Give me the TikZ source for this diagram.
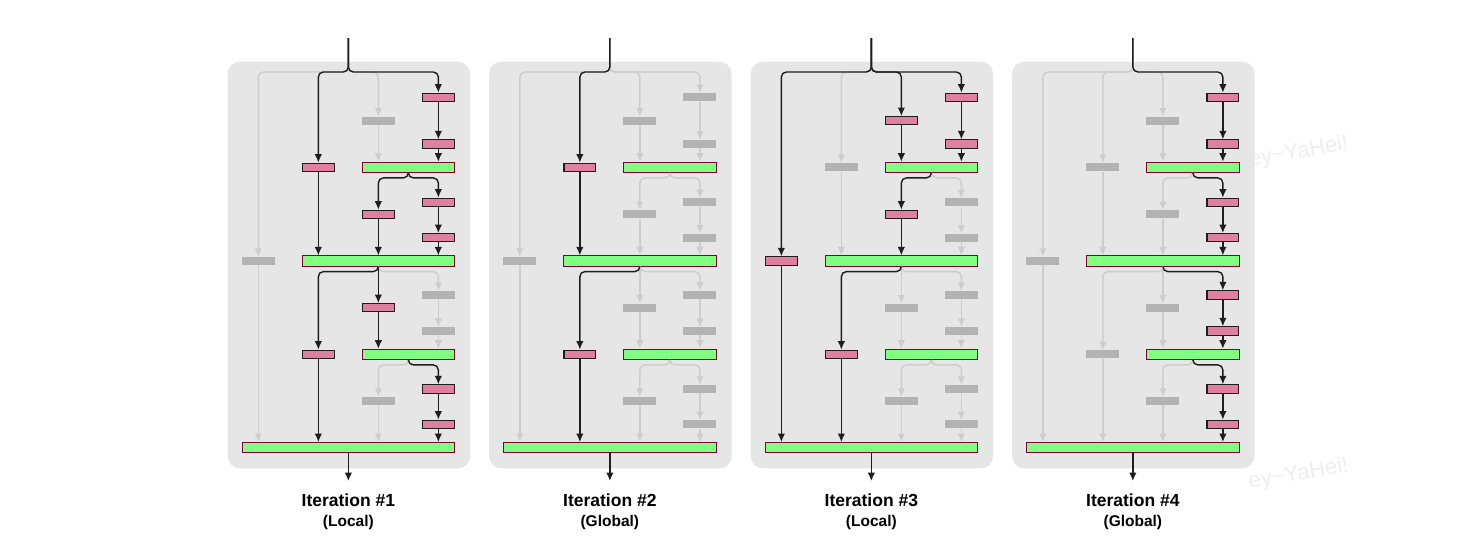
\documentclass[tikz,border=0pt]{standalone}
\usepackage{fontspec}
\setmainfont{Liberation Sans}
\usepackage{xcolor}
\usetikzlibrary{arrows.meta}
\definecolor{figline}{RGB}{30,30,30}
\definecolor{figpanel}{RGB}{230,230,230}
\definecolor{figidle}{RGB}{205,205,205}
\definecolor{figoff}{RGB}{179,179,179}
\definecolor{figpink}{RGB}{224,128,160}
\definecolor{figgreen}{RGB}{128,255,128}
\definecolor{figedge}{RGB}{128,0,51}
\definecolor{figmark}{RGB}{238,238,238}
\tikzset{
  act/.style  ={draw=figline, line width=1.4pt, rounded corners=5pt, -{Latex[length=8.5pt,width=7.5pt]}},
  idle/.style ={draw=figidle, line width=1.4pt, rounded corners=5pt, -{Latex[length=8.5pt,width=7.5pt]}},
  cv/.style   ={rectangle, inner sep=0pt, minimum width=31.8pt, minimum height=8.2pt, fill=figpink, draw=figline, line width=1.1pt},
  cvoff/.style={rectangle, inner sep=0pt, minimum width=33pt, minimum height=8pt, fill=figoff},
  jn/.style   ={rectangle, inner sep=0pt, minimum width=#1, minimum height=10.3pt, fill=figgreen, draw=figedge, line width=0.9pt},
  ttl/.style  ={font=\fontsize{17.5}{20}\selectfont\bfseries, inner sep=0pt},
  sub/.style  ={font=\fontsize{15.5}{18}\selectfont\bfseries, inner sep=0pt},
  wm/.style   ={font=\fontsize{22}{24}\selectfont, text=figmark, inner sep=0pt},
}
\begin{document}
\begin{tikzpicture}[x=1pt,y=-1pt]
  \useasboundingbox (0,0) rectangle (1461,558);
  \node[wm, rotate=10, anchor=base west] (wm1) at (1250,167) {ey\textasciitilde YaHei!};
  \node[wm, rotate=10, anchor=base west] (wm2) at (1250,489) {ey\textasciitilde YaHei!};
  % iteration 1
  \begin{scope}[xshift=0pt]
  \fill[figpanel, rounded corners=12pt] (227.7,61.7) rectangle (470,468.3);
  \coordinate (p1in) at (348.35,38);
  \coordinate (p1out) at (348.35,481);
  \node[cvoff] (p1a1) at (258.35,261) {};
  \node[cv] (p1b1) at (318.35,167.3) {};
  \node[cv] (p1b2) at (318.35,354.3) {};
  \node[cvoff] (p1c1) at (378.35,120.7) {};
  \node[cv] (p1c2) at (378.35,214.3) {};
  \node[cv] (p1c3) at (378.35,307.7) {};
  \node[cvoff] (p1c4) at (378.35,401) {};
  \node[cv] (p1d1) at (438.35,97.3) {};
  \node[cv] (p1d2) at (438.35,144) {};
  \node[cv] (p1d3) at (438.35,202.3) {};
  \node[cv] (p1d4) at (438.35,237.7) {};
  \node[cvoff] (p1d5) at (438.35,295) {};
  \node[cvoff] (p1d6) at (438.35,331) {};
  \node[cv] (p1d7) at (438.35,389) {};
  \node[cv] (p1d8) at (438.35,424.3) {};
  \node[jn=92.4pt] (p1j1) at (408.35,167.3) {};
  \node[jn=152.4pt] (p1j2) at (378.35,261) {};
  \node[jn=92.4pt] (p1j3) at (408.35,354.3) {};
  \node[jn=212.4pt] (p1j4) at (348.35,447.7) {};
  \draw[idle] (p1in) -- ++(0,34) -| (p1a1.north);
  \draw[idle] (p1in) -- ++(0,34) -| (p1c1.north);
  \draw[idle] (p1c1.south) -- (p1c1.south |- p1j1.north);
  \draw[idle] (p1a1.south) -- (p1a1.south |- p1j4.north);
  \draw[idle] (p1j2.south) -- ++(0,5) -| (p1d5.north);
  \draw[idle] (p1d5.south) -- (p1d6.north);
  \draw[idle] (p1d6.south) -- (p1d6.south |- p1j3.north);
  \draw[idle] (p1j3.south) -- ++(0,5) -| (p1c4.north);
  \draw[idle] (p1c4.south) -- (p1c4.south |- p1j4.north);
  \draw[act] (p1in) -- ++(0,34) -| (p1b1.north);
  \draw[act] (p1in) -- ++(0,34) -| (p1d1.north);
  \draw[act] (p1d1.south) -- (p1d2.north);
  \draw[act] (p1d2.south) -- (p1d2.south |- p1j1.north);
  \draw[act] (p1b1.south) -- (p1b1.south |- p1j2.north);
  \draw[act] (p1j1.south) -- ++(0,5) -| (p1c2.north);
  \draw[act] (p1j1.south) -- ++(0,5) -| (p1d3.north);
  \draw[act] (p1c2.south) -- (p1c2.south |- p1j2.north);
  \draw[act] (p1d3.south) -- (p1d4.north);
  \draw[act] (p1d4.south) -- (p1d4.south |- p1j2.north);
  \draw[act] (p1j2.south) -- ++(0,5) -| (p1b2.north);
  \draw[act] (p1j2.south) -- (p1c3.north);
  \draw[act] (p1c3.south) -- (p1c3.south |- p1j3.north);
  \draw[act] (p1j3.south) -- ++(0,5) -| (p1d7.north);
  \draw[act] (p1d7.south) -- (p1d8.north);
  \draw[act] (p1d8.south) -- (p1d8.south |- p1j4.north);
  \draw[act] (p1b2.south) -- (p1b2.south |- p1j4.north);
  \draw[act] (p1j4.south) -- (p1out);
  \node[ttl] (p1t) at (348.35,500) {Iteration \#1};
  \node[sub] (p1s) at (348.35,522.5) {(Local)};
  \end{scope}
  % iteration 2
  \begin{scope}[xshift=261.5pt]
  \fill[figpanel, rounded corners=12pt] (227.7,61.7) rectangle (470,468.3);
  \coordinate (p2in) at (348.35,38);
  \coordinate (p2out) at (348.35,481);
  \node[cvoff] (p2a1) at (258.35,261) {};
  \node[cv] (p2b1) at (318.35,167.3) {};
  \node[cv] (p2b2) at (318.35,354.3) {};
  \node[cvoff] (p2c1) at (378.35,120.7) {};
  \node[cvoff] (p2c2) at (378.35,214.3) {};
  \node[cvoff] (p2c3) at (378.35,307.7) {};
  \node[cvoff] (p2c4) at (378.35,401) {};
  \node[cvoff] (p2d1) at (438.35,97.3) {};
  \node[cvoff] (p2d2) at (438.35,144) {};
  \node[cvoff] (p2d3) at (438.35,202.3) {};
  \node[cvoff] (p2d4) at (438.35,237.7) {};
  \node[cvoff] (p2d5) at (438.35,295) {};
  \node[cvoff] (p2d6) at (438.35,331) {};
  \node[cvoff] (p2d7) at (438.35,389) {};
  \node[cvoff] (p2d8) at (438.35,424.3) {};
  \node[jn=92.4pt] (p2j1) at (408.35,167.3) {};
  \node[jn=152.4pt] (p2j2) at (378.35,261) {};
  \node[jn=92.4pt] (p2j3) at (408.35,354.3) {};
  \node[jn=212.4pt] (p2j4) at (348.35,447.7) {};
  \draw[idle] (p2in) -- ++(0,34) -| (p2a1.north);
  \draw[idle] (p2in) -- ++(0,34) -| (p2c1.north);
  \draw[idle] (p2in) -- ++(0,34) -| (p2d1.north);
  \draw[idle] (p2c1.south) -- (p2c1.south |- p2j1.north);
  \draw[idle] (p2d1.south) -- (p2d2.north);
  \draw[idle] (p2d2.south) -- (p2d2.south |- p2j1.north);
  \draw[idle] (p2j1.south) -- ++(0,5) -| (p2c2.north);
  \draw[idle] (p2j1.south) -- ++(0,5) -| (p2d3.north);
  \draw[idle] (p2c2.south) -- (p2c2.south |- p2j2.north);
  \draw[idle] (p2d3.south) -- (p2d4.north);
  \draw[idle] (p2d4.south) -- (p2d4.south |- p2j2.north);
  \draw[idle] (p2a1.south) -- (p2a1.south |- p2j4.north);
  \draw[idle] (p2j2.south) -- (p2c3.north);
  \draw[idle] (p2j2.south) -- ++(0,5) -| (p2d5.north);
  \draw[idle] (p2c3.south) -- (p2c3.south |- p2j3.north);
  \draw[idle] (p2d5.south) -- (p2d6.north);
  \draw[idle] (p2d6.south) -- (p2d6.south |- p2j3.north);
  \draw[idle] (p2j3.south) -- ++(0,5) -| (p2c4.north);
  \draw[idle] (p2j3.south) -- ++(0,5) -| (p2d7.north);
  \draw[idle] (p2c4.south) -- (p2c4.south |- p2j4.north);
  \draw[idle] (p2d7.south) -- (p2d8.north);
  \draw[idle] (p2d8.south) -- (p2d8.south |- p2j4.north);
  \draw[act] (p2in) -- ++(0,34) -| (p2b1.north);
  \draw[act] (p2b1.south) -- (p2b1.south |- p2j2.north);
  \draw[act] (p2j2.south) -- ++(0,5) -| (p2b2.north);
  \draw[act] (p2b2.south) -- (p2b2.south |- p2j4.north);
  \draw[act] (p2j4.south) -- (p2out);
  \node[ttl] (p2t) at (348.35,500) {Iteration \#2};
  \node[sub] (p2s) at (348.35,522.5) {(Global)};
  \end{scope}
  % iteration 3
  \begin{scope}[xshift=523pt]
  \fill[figpanel, rounded corners=12pt] (227.7,61.7) rectangle (470,468.3);
  \coordinate (p3in) at (348.35,38);
  \coordinate (p3out) at (348.35,481);
  \node[cv] (p3a1) at (258.35,261) {};
  \node[cvoff] (p3b1) at (318.35,167.3) {};
  \node[cv] (p3b2) at (318.35,354.3) {};
  \node[cv] (p3c1) at (378.35,120.7) {};
  \node[cv] (p3c2) at (378.35,214.3) {};
  \node[cvoff] (p3c3) at (378.35,307.7) {};
  \node[cvoff] (p3c4) at (378.35,401) {};
  \node[cv] (p3d1) at (438.35,97.3) {};
  \node[cv] (p3d2) at (438.35,144) {};
  \node[cvoff] (p3d3) at (438.35,202.3) {};
  \node[cvoff] (p3d4) at (438.35,237.7) {};
  \node[cvoff] (p3d5) at (438.35,295) {};
  \node[cvoff] (p3d6) at (438.35,331) {};
  \node[cvoff] (p3d7) at (438.35,389) {};
  \node[cvoff] (p3d8) at (438.35,424.3) {};
  \node[jn=92.4pt] (p3j1) at (408.35,167.3) {};
  \node[jn=152.4pt] (p3j2) at (378.35,261) {};
  \node[jn=92.4pt] (p3j3) at (408.35,354.3) {};
  \node[jn=212.4pt] (p3j4) at (348.35,447.7) {};
  \draw[idle] (p3in) -- ++(0,34) -| (p3b1.north);
  \draw[idle] (p3b1.south) -- (p3b1.south |- p3j2.north);
  \draw[idle] (p3j1.south) -- ++(0,5) -| (p3d3.north);
  \draw[idle] (p3d3.south) -- (p3d4.north);
  \draw[idle] (p3d4.south) -- (p3d4.south |- p3j2.north);
  \draw[idle] (p3j2.south) -- (p3c3.north);
  \draw[idle] (p3j2.south) -- ++(0,5) -| (p3d5.north);
  \draw[idle] (p3c3.south) -- (p3c3.south |- p3j3.north);
  \draw[idle] (p3d5.south) -- (p3d6.north);
  \draw[idle] (p3d6.south) -- (p3d6.south |- p3j3.north);
  \draw[idle] (p3j3.south) -- ++(0,5) -| (p3c4.north);
  \draw[idle] (p3j3.south) -- ++(0,5) -| (p3d7.north);
  \draw[idle] (p3c4.south) -- (p3c4.south |- p3j4.north);
  \draw[idle] (p3d7.south) -- (p3d8.north);
  \draw[idle] (p3d8.south) -- (p3d8.south |- p3j4.north);
  \draw[act] (p3in) -- ++(0,34) -| (p3a1.north);
  \draw[act] (p3in) -- ++(0,34) -| (p3c1.north);
  \draw[act] (p3in) -- ++(0,34) -| (p3d1.north);
  \draw[act] (p3c1.south) -- (p3c1.south |- p3j1.north);
  \draw[act] (p3d1.south) -- (p3d2.north);
  \draw[act] (p3d2.south) -- (p3d2.south |- p3j1.north);
  \draw[act] (p3j1.south) -- ++(0,5) -| (p3c2.north);
  \draw[act] (p3c2.south) -- (p3c2.south |- p3j2.north);
  \draw[act] (p3j2.south) -- ++(0,5) -| (p3b2.north);
  \draw[act] (p3b2.south) -- (p3b2.south |- p3j4.north);
  \draw[act] (p3a1.south) -- (p3a1.south |- p3j4.north);
  \draw[act] (p3j4.south) -- (p3out);
  \node[ttl] (p3t) at (348.35,500) {Iteration \#3};
  \node[sub] (p3s) at (348.35,522.5) {(Local)};
  \end{scope}
  % iteration 4
  \begin{scope}[xshift=784.5pt]
  \fill[figpanel, rounded corners=12pt] (227.7,61.7) rectangle (470,468.3);
  \coordinate (p4in) at (348.35,38);
  \coordinate (p4out) at (348.35,481);
  \node[cvoff] (p4a1) at (258.35,261) {};
  \node[cvoff] (p4b1) at (318.35,167.3) {};
  \node[cvoff] (p4b2) at (318.35,354.3) {};
  \node[cvoff] (p4c1) at (378.35,120.7) {};
  \node[cvoff] (p4c2) at (378.35,214.3) {};
  \node[cvoff] (p4c3) at (378.35,307.7) {};
  \node[cvoff] (p4c4) at (378.35,401) {};
  \node[cv] (p4d1) at (438.35,97.3) {};
  \node[cv] (p4d2) at (438.35,144) {};
  \node[cv] (p4d3) at (438.35,202.3) {};
  \node[cv] (p4d4) at (438.35,237.7) {};
  \node[cv] (p4d5) at (438.35,295) {};
  \node[cv] (p4d6) at (438.35,331) {};
  \node[cv] (p4d7) at (438.35,389) {};
  \node[cv] (p4d8) at (438.35,424.3) {};
  \node[jn=92.4pt] (p4j1) at (408.35,167.3) {};
  \node[jn=152.4pt] (p4j2) at (378.35,261) {};
  \node[jn=92.4pt] (p4j3) at (408.35,354.3) {};
  \node[jn=212.4pt] (p4j4) at (348.35,447.7) {};
  \draw[idle] (p4in) -- ++(0,34) -| (p4a1.north);
  \draw[idle] (p4in) -- ++(0,34) -| (p4b1.north);
  \draw[idle] (p4in) -- ++(0,34) -| (p4c1.north);
  \draw[idle] (p4c1.south) -- (p4c1.south |- p4j1.north);
  \draw[idle] (p4b1.south) -- (p4b1.south |- p4j2.north);
  \draw[idle] (p4j1.south) -- ++(0,5) -| (p4c2.north);
  \draw[idle] (p4c2.south) -- (p4c2.south |- p4j2.north);
  \draw[idle] (p4a1.south) -- (p4a1.south |- p4j4.north);
  \draw[idle] (p4j2.south) -- ++(0,5) -| (p4b2.north);
  \draw[idle] (p4j2.south) -- (p4c3.north);
  \draw[idle] (p4c3.south) -- (p4c3.south |- p4j3.north);
  \draw[idle] (p4b2.south) -- (p4b2.south |- p4j4.north);
  \draw[idle] (p4j3.south) -- ++(0,5) -| (p4c4.north);
  \draw[idle] (p4c4.south) -- (p4c4.south |- p4j4.north);
  \draw[act] (p4in) -- ++(0,34) -| (p4d1.north);
  \draw[act] (p4d1.south) -- (p4d2.north);
  \draw[act] (p4d2.south) -- (p4d2.south |- p4j1.north);
  \draw[act] (p4j1.south) -- ++(0,5) -| (p4d3.north);
  \draw[act] (p4d3.south) -- (p4d4.north);
  \draw[act] (p4d4.south) -- (p4d4.south |- p4j2.north);
  \draw[act] (p4j2.south) -- ++(0,5) -| (p4d5.north);
  \draw[act] (p4d5.south) -- (p4d6.north);
  \draw[act] (p4d6.south) -- (p4d6.south |- p4j3.north);
  \draw[act] (p4j3.south) -- ++(0,5) -| (p4d7.north);
  \draw[act] (p4d7.south) -- (p4d8.north);
  \draw[act] (p4d8.south) -- (p4d8.south |- p4j4.north);
  \draw[act] (p4j4.south) -- (p4out);
  \node[ttl] (p4t) at (348.35,500) {Iteration \#4};
  \node[sub] (p4s) at (348.35,522.5) {(Global)};
  \end{scope}
\end{tikzpicture}
\end{document}
